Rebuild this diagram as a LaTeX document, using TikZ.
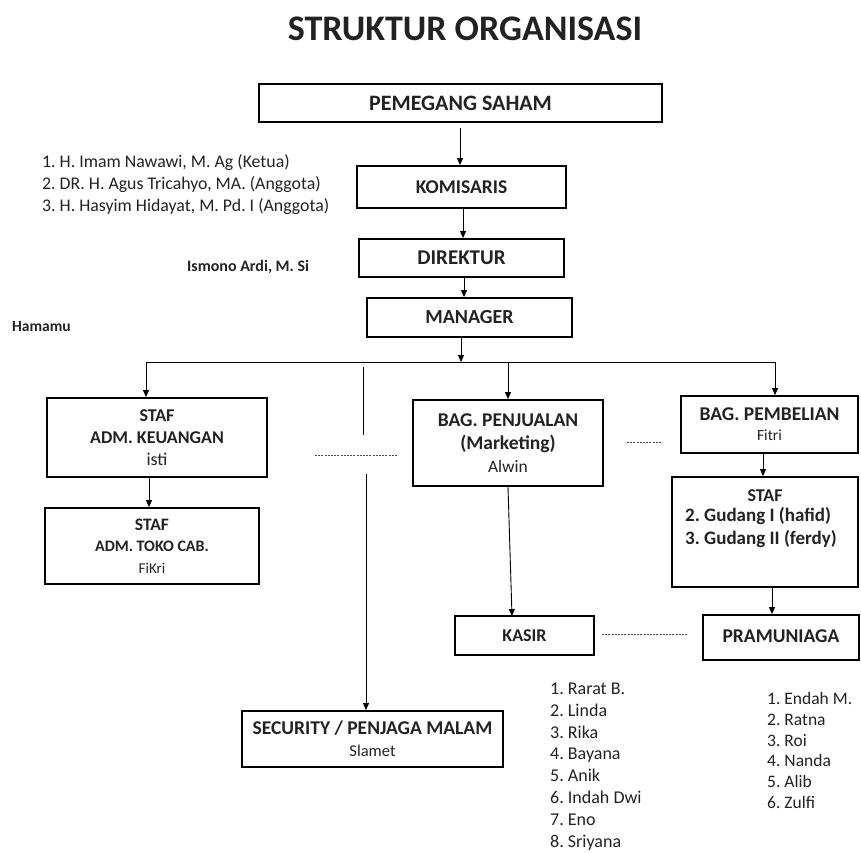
\documentclass[tikz,border=0pt]{standalone}
\usepackage{fontspec}
\setmainfont{Carlito}
\usetikzlibrary{arrows.meta}
\definecolor{ink}{HTML}{222222}
\begin{document}
\frenchspacing
\begin{tikzpicture}[x=1pt,y=-1pt,
  box/.style={draw=black, line width=1.8pt, rectangle, inner sep=0pt, align=center, text=ink},
  conn/.style={line width=0.9pt, -{Triangle[length=7pt,width=6pt]}},
  plainline/.style={line width=0.9pt},
  dashline/.style={line width=0.8pt, dash pattern=on 2pt off 1.2pt, black!70},
  lbl/.style={inner sep=0pt, anchor=west, align=left, text=ink},
]
\useasboundingbox (0,0) rectangle (861,852);

% title
\node[inner sep=0pt, text=ink, font=\fontsize{36}{36}\selectfont\bfseries] (title) at (465,29) {STRUKTUR ORGANISASI};

% top chain
\node[box, minimum width=403, minimum height=38, font=\fontsize{22}{22}\selectfont\bfseries] (pem) at (460.5,103) {PEMEGANG SAHAM};
\node[box, minimum width=209, minimum height=42, font=\fontsize{19.5}{19.5}\selectfont\bfseries] (kom) at (461.5,187) {KOMISARIS};
\node[box, minimum width=205, minimum height=38, font=\fontsize{21}{21}\selectfont\bfseries] (dir) at (461.5,258) {DIREKTUR};
\node[box, minimum width=205, minimum height=39, font=\fontsize{20}{20}\selectfont\bfseries] (man) at (469.5,317.5) {MANAGER};

% second level
\node[box, minimum width=220, minimum height=79, font=\fontsize{18}{22}\selectfont\bfseries] (keu) at (157,437.5)
  {STAF\\ADM. KEUANGAN\\{\mdseries isti}};
\node[box, minimum width=214, minimum height=76, font=\fontsize{16}{21.5}\selectfont\bfseries] (toko) at (152,546)
  {{\fontsize{17.5}{21.5}\selectfont STAF}\\ADM. TOKO CAB.\\{\mdseries\fontsize{15}{21.5}\selectfont FiKri}};
\node[box, minimum width=190, minimum height=86, font=\fontsize{19.5}{23}\selectfont\bfseries] (jual) at (508,443)
  {BAG. PENJUALAN\\(Marketing)\\{\mdseries\fontsize{17.5}{21}\selectfont Alwin}};
\node[box, minimum width=177, minimum height=57, font=\fontsize{19.5}{20}\selectfont\bfseries] (beli) at (769.5,424.5)
  {BAG. PEMBELIAN\\{\mdseries\fontsize{15.5}{18}\selectfont Fitri}};
\node[box, minimum width=186, minimum height=110] (staf) at (765,532) {};
\node[inner sep=0pt, anchor=north, text=ink, font=\fontsize{18}{18}\selectfont\bfseries] (stafT) at (765,489) {STAF};
\node[lbl, anchor=north west, font=\fontsize{19}{23}\selectfont\bfseries] (stafL) at (685,507)
  {2. Gudang I (hafid)\\3. Gudang II (ferdy)};

\node[box, minimum width=139, minimum height=39, font=\fontsize{18}{18}\selectfont\bfseries] (kasir) at (524.5,635.5) {KASIR};
\node[box, minimum width=156, minimum height=45, font=\fontsize{19.5}{19.5}\selectfont\bfseries] (pram) at (781,637.5) {\raisebox{2pt}{PRAMUNIAGA}};
\node[box, minimum width=261, minimum height=56, font=\fontsize{19.5}{22}\selectfont\bfseries] (sec) at (372.5,739)
  {SECURITY / PENJAGA MALAM\\{\mdseries\fontsize{16.5}{20}\selectfont Slamet}};

% side labels
\node[lbl, font=\fontsize{17.8}{22}\selectfont] (komnames) at (42,185)
  {1. H. Imam Nawawi, M. Ag (Ketua)\\2. DR. H. Agus Tricahyo, MA. (Anggota)\\3. H. Hasyim Hidayat, M. Pd. I (Anggota)};
\node[lbl, font=\fontsize{16}{16}\selectfont\bfseries] (dirname) at (187,267) {Ismono Ardi, M. Si};
\node[lbl, font=\fontsize{15.5}{15.5}\selectfont\bfseries] (manname) at (12,327) {Hamamu};
\node[lbl, font=\fontsize{18}{21.9}\selectfont] (kasirlist) at (550,766.5)
  {1. Rarat B.\\2. Linda\\3. Rika\\4. Bayana\\5. Anik\\6. Indah Dwi\\7. Eno\\8. Sriyana};
\node[lbl, font=\fontsize{17.5}{20.8}\selectfont] (pramlist) at (767,750.5)
  {1. Endah M.\\2. Ratna\\3. Roi\\4. Nanda\\5. Alib\\6. Zulfi};

% connectors
\coordinate (pk) at (460,128);
\coordinate (busM) at (461,362);
\coordinate (busL) at (146,362);
\coordinate (busJ) at (508,362);
\coordinate (busR) at (775,362);
\draw[conn] (pk) -- (pk |- kom.north);
\draw[conn] (kom.south -| 463,0) -- (dir.north -| 463,0);
\draw[conn] (dir.south -| 464,0) -- (man.north -| 464,0);
\draw[conn] (man.south -| busM) -- (busM);
\draw[plainline] (busL) -- (busR);
\draw[conn] (busL) -- (busL |- keu.north);
\draw[conn] (busJ) -- (busJ |- jual.north);
\draw[conn] (busR) -- (busR |- beli.north);
\draw[conn] (keu.south -| 149,0) -- (toko.north -| 149,0);
\draw[conn] (beli.south -| 763,0) -- (staf.north -| 763,0);
\draw[conn] (staf.south -| 772,0) -- (pram.north -| 772,0);
\coordinate (kin) at (512,616);
\draw[conn] (jual.south) -- (kin);

% security line (broken)
\coordinate (s1) at (363,367);
\coordinate (s2) at (363,435);
\coordinate (s3) at (366,474);
\draw[plainline] (s1) -- (s2);
\draw[conn] (s3) -- (s3 |- sec.north);

% dashed links
\coordinate (d1a) at (315,455); \coordinate (d1b) at (397,455);
\coordinate (d2a) at (627,442); \coordinate (d2b) at (662,442);
\coordinate (d3a) at (602,634); \coordinate (d3b) at (688,634);
\draw[dashline] (d1a) -- (d1b);
\draw[dashline] (d2a) -- (d2b);
\draw[dashline] (d3a) -- (d3b);
\end{tikzpicture}
\end{document}
